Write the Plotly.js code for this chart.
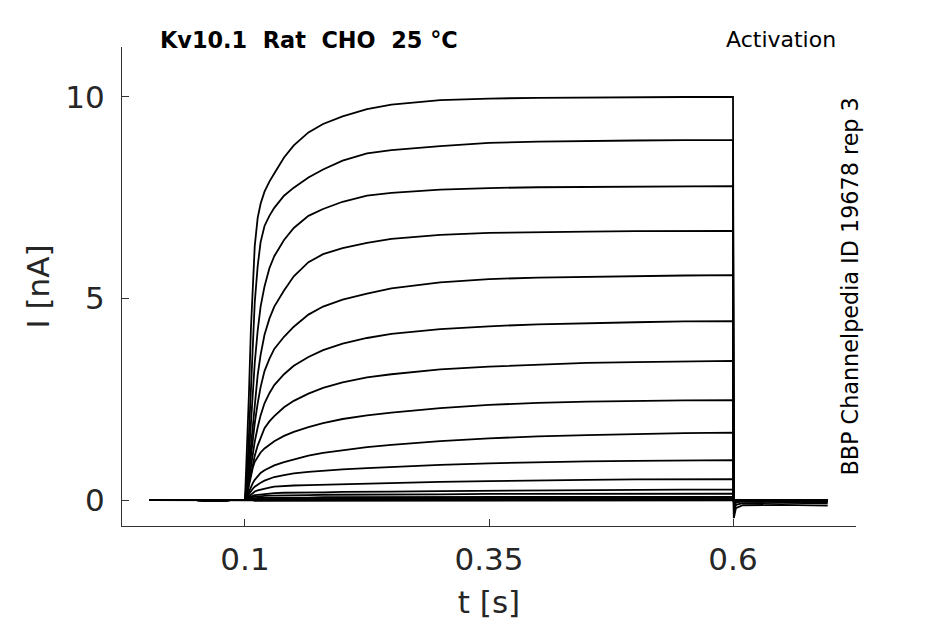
<!DOCTYPE html>
<html>
<head>
<meta charset="utf-8">
<script src="https://cdn.plot.ly/plotly-3.0.1.min.js"></script>
<style>
  html, body { margin: 0; padding: 0; background: #fff; }
  #chart { width: 945px; height: 624px; }
</style>
</head>
<body>
<div id="chart"></div>
<script>
// sample times (s): holding, step to test voltage at 0.1 s, tail after 0.6 s
const timeS = [
  0.002, 0.05, 0.07, 0.085,
  0.1, 0.102, 0.104, 0.106, 0.108, 0.11, 0.113, 0.116, 0.12, 0.125, 0.13,
  0.14, 0.15, 0.165, 0.18, 0.2, 0.225, 0.25, 0.3, 0.35, 0.4, 0.45, 0.5, 0.55, 0.6,
  0.6008, 0.603, 0.61, 0.65, 0.697
];

// current (nA) of each sweep
const sweep1 = [0, 0, -0.02, 0,
  0, 1.1, 2.6, 4.2, 5.5, 6.3, 7.0, 7.35, 7.65, 7.9, 8.1, 8.5, 8.8, 9.12, 9.33, 9.52, 9.7, 9.81, 9.92, 9.96, 9.98, 9.99, 10.0, 10.0, 10.0,
  -0.45, -0.2, -0.13, -0.12, -0.14];
const sweep2 = [0, 0, -0.02, 0,
  0, 0.6, 1.6, 2.8, 3.9, 4.9, 5.8, 6.4, 6.8, 7.05, 7.25, 7.55, 7.75, 8.0, 8.2, 8.42, 8.6, 8.68, 8.78, 8.86, 8.89, 8.91, 8.92, 8.93, 8.93,
  -0.35, -0.12, -0.08, -0.07, -0.08];
const sweep3 = [0, 0, -0.02, 0,
  0, 0.4, 1.1, 1.9, 2.7, 3.4, 4.2, 4.8, 5.3, 5.75, 6.05, 6.45, 6.75, 7.05, 7.22, 7.4, 7.55, 7.62, 7.7, 7.74, 7.76, 7.77, 7.78, 7.78, 7.79,
  -0.25, -0.06, -0.04, -0.04, -0.05];
const sweep4 = [0, 0, -0.02, 0,
  0, 0.3, 0.8, 1.35, 1.9, 2.45, 3.1, 3.6, 4.1, 4.5, 4.8, 5.2, 5.55, 5.9, 6.1, 6.25, 6.38, 6.48, 6.58, 6.63, 6.65, 6.66, 6.67, 6.68, 6.68,
  -0.15, -0.03, -0.02, -0.02, -0.03];
const sweep5 = [0, 0, -0.02, 0,
  0, 0.25, 0.65, 1.1, 1.5, 1.9, 2.4, 2.8, 3.2, 3.5, 3.75, 4.05, 4.3, 4.6, 4.8, 4.97, 5.12, 5.25, 5.4, 5.48, 5.52, 5.54, 5.56, 5.57, 5.58,
  -0.1, -0.02, -0.01, -0.01, -0.02];
const sweep6 = [0, 0, -0.02, 0,
  0, 0.2, 0.5, 0.85, 1.15, 1.45, 1.8, 2.1, 2.4, 2.65, 2.85, 3.12, 3.33, 3.55, 3.72, 3.88, 4.02, 4.12, 4.24, 4.31, 4.36, 4.39, 4.41, 4.43, 4.44,
  -0.08, -0.01, 0, 0, -0.01];
const sweep7 = [0, 0, -0.02, 0,
  0, 0.15, 0.4, 0.65, 0.9, 1.1, 1.35, 1.55, 1.78, 1.95, 2.08, 2.3, 2.46, 2.64, 2.78, 2.92, 3.04, 3.12, 3.24, 3.31, 3.36, 3.4, 3.42, 3.44, 3.45,
  -0.06, 0, 0, 0, -0.01];
const sweep8 = [0, 0, -0.02, 0,
  0, 0.12, 0.35, 0.6, 0.8, 0.95, 1.08, 1.18, 1.28, 1.38, 1.46, 1.59, 1.69, 1.81, 1.91, 2.01, 2.1, 2.17, 2.28, 2.36, 2.41, 2.44, 2.46, 2.47, 2.48,
  -0.05, 0, 0, 0, 0];
const sweep9 = [0, 0, -0.02, 0,
  0, 0.08, 0.2, 0.32, 0.42, 0.5, 0.6, 0.67, 0.74, 0.8, 0.86, 0.94, 1.01, 1.1, 1.17, 1.24, 1.31, 1.37, 1.46, 1.53, 1.58, 1.61, 1.64, 1.66, 1.67,
  -0.04, 0, 0, 0, 0];
const sweep10 = [0, 0, -0.02, 0,
  0, 0.05, 0.14, 0.22, 0.28, 0.33, 0.39, 0.43, 0.48, 0.53, 0.57, 0.62, 0.66, 0.7, 0.73, 0.76, 0.79, 0.82, 0.87, 0.91, 0.94, 0.96, 0.97, 0.98, 0.99,
  -0.03, 0, 0, 0, 0];
const sweep11 = [0, 0, -0.02, 0,
  0, 0.04, 0.09, 0.14, 0.18, 0.21, 0.24, 0.26, 0.29, 0.31, 0.33, 0.35, 0.36, 0.37, 0.38, 0.4, 0.41, 0.42, 0.45, 0.47, 0.49, 0.5, 0.51, 0.52, 0.52,
  -0.02, 0, 0, 0, 0];
const sweep12 = [0, 0, -0.02, 0,
  0, 0.02, 0.05, 0.08, 0.1, 0.12, 0.13, 0.14, 0.15, 0.16, 0.17, 0.18, 0.18, 0.19, 0.19, 0.2, 0.21, 0.21, 0.22, 0.23, 0.24, 0.25, 0.25, 0.26, 0.26,
  -0.01, 0, 0, 0, 0];
const sweep13 = [0, 0, -0.01, 0,
  0, 0.02, 0.04, 0.06, 0.07, 0.08, 0.09, 0.1, 0.1, 0.11, 0.11, 0.12, 0.12, 0.12, 0.13, 0.13, 0.13, 0.14, 0.14, 0.15, 0.15, 0.15, 0.16, 0.16, 0.16,
  0, 0, 0, 0, 0];
const sweep14 = [0, 0, -0.01, 0,
  0, 0.01, 0.02, 0.03, 0.04, 0.04, 0.05, 0.05, 0.05, 0.06, 0.06, 0.06, 0.06, 0.06, 0.07, 0.07, 0.07, 0.07, 0.07, 0.08, 0.08, 0.08, 0.08, 0.08, 0.08,
  0, 0, 0, 0, 0];
const sweep15 = [0, 0, -0.01, 0,
  0, 0.01, 0.01, 0.01, 0.02, 0.02, 0.02, 0.02, 0.02, 0.02, 0.03, 0.03, 0.03, 0.03, 0.03, 0.03, 0.03, 0.03, 0.03, 0.03, 0.03, 0.03, 0.03, 0.03, 0.03,
  0, 0, 0, 0, 0];
const sweep16 = [0, 0, -0.01, 0,
  0, 0, 0, 0.01, 0.01, 0.01, 0.01, 0.01, 0.01, 0.01, 0.01, 0.01, 0.01, 0.01, 0.01, 0.01, 0.01, 0.01, 0.01, 0.01, 0.01, 0.01, 0.01, 0.01, 0.01,
  0, 0, 0, 0, 0];
const sweep17 = [0, 0, -0.01, 0,
  0, -0.01, -0.01, -0.01, -0.01, -0.02, -0.02, -0.02, -0.02, -0.02, -0.02, -0.02, -0.02, -0.02, -0.02, -0.02, -0.02, -0.02, -0.02, -0.02, -0.02, -0.02, -0.02, -0.02, -0.02,
  -0.01, -0.01, -0.01, -0.01, -0.01];

const sweeps = [sweep1, sweep2, sweep3, sweep4, sweep5, sweep6, sweep7, sweep8, sweep9,
  sweep10, sweep11, sweep12, sweep13, sweep14, sweep15, sweep16, sweep17];

const xTicks = [0.1, 0.35, 0.6];
const xTickText = ['0.1', '0.35', '0.6'];
const yTicks = [0, 5, 10];

const traces = sweeps.map(s => ({
  x: timeS,
  y: s,
  type: 'scatter',
  mode: 'lines',
  line: { color: '#000', width: 1.8 },
  hoverinfo: 'skip',
  showlegend: false
}));

const axisCommon = {
  showline: true,
  linecolor: '#333',
  linewidth: 1,
  ticks: 'inside',
  ticklen: 7,
  tickwidth: 1,
  tickcolor: '#333',
  showgrid: false,
  zeroline: false,
  tickfont: { family: 'DejaVu Sans', size: 31, color: '#262626' }
};

const layout = {
  width: 945,
  height: 624,
  margin: { l: 122, r: 89, t: 47, b: 98 },
  paper_bgcolor: '#fff',
  plot_bgcolor: '#fff',
  font: { family: 'DejaVu Sans', color: '#000' },
  xaxis: Object.assign({}, axisCommon, {
    range: [-0.026, 0.726],
    tickvals: xTicks,
    ticktext: xTickText,
    ticklabelstandoff: 6,
    title: { text: 't [s]', font: { family: 'DejaVu Sans', size: 31, color: '#262626' }, standoff: 15 }
  }),
  yaxis: Object.assign({}, axisCommon, {
    range: [-0.645, 11.24],
    tickvals: yTicks,
    ticklabelstandoff: 10,
    title: { text: 'I [nA]', font: { family: 'DejaVu Sans', size: 31, color: '#262626' }, standoff: 6 }
  }),
  annotations: [
    {
      text: '<b>Kv10.1\u00a0\u00a0Rat\u00a0\u00a0CHO\u00a0\u00a025\u00a0°C</b>',
      xref: 'paper', yref: 'paper', x: 0.049, y: 1.0146,
      xanchor: 'left', yanchor: 'middle', showarrow: false,
      font: { family: 'DejaVu Sans', size: 22.4, color: '#000' }
    },
    {
      text: 'Activation',
      xref: 'paper', yref: 'paper', x: 0.9755, y: 1.0167,
      xanchor: 'right', yanchor: 'middle', showarrow: false,
      font: { family: 'DejaVu Sans', size: 22, color: '#000' }
    },
    {
      text: 'BBP Channelpedia ID 19678 rep 3',
      xref: 'paper', yref: 'paper', x: 0.9905, y: 0.5,
      xanchor: 'center', yanchor: 'middle', textangle: -90, showarrow: false,
      font: { family: 'DejaVu Sans', size: 22.3, color: '#000' }
    }
  ]
};

Plotly.newPlot('chart', traces, layout, { displayModeBar: false, staticPlot: true });
</script>
</body>
</html>
